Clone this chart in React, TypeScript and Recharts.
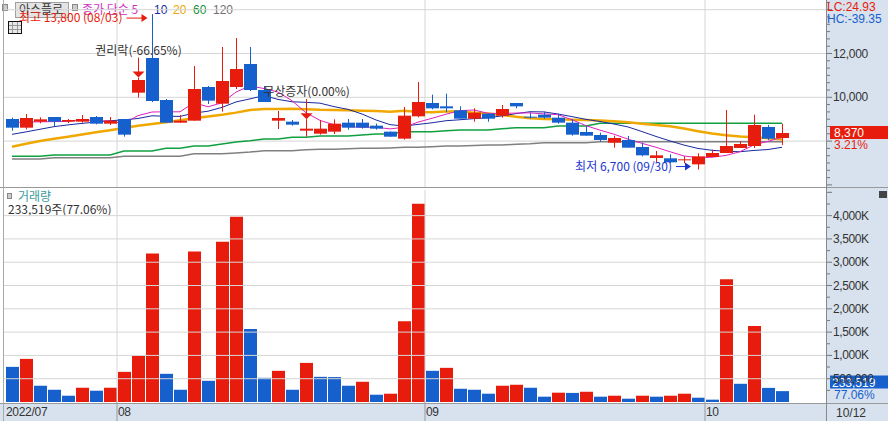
import React from "react";
import { ComposedChart, Bar, Line, XAxis, YAxis, ReferenceLine, Cell } from "recharts";

const RED = "#e81c0c";
const BLUE = "#1560cd";
const GRID = "#d6d6d6";
const PANEL = "#d8e2ee";
const KR_FONT = '"Noto Sans CJK KR", "DejaVu Sans", sans-serif';
const NUM_FONT = '"Liberation Sans", Arial, sans-serif';

// trading days shown
const dates = [
  "07/20", "07/21", "07/22", "07/25", "07/26", "07/27", "07/28", "07/29",
  "08/01", "08/02", "08/03", "08/04", "08/05", "08/08", "08/09", "08/10", "08/11", "08/12",
  "08/16", "08/17", "08/18", "08/19", "08/22", "08/23", "08/24", "08/25", "08/26", "08/29", "08/30", "08/31",
  "09/01", "09/02", "09/05", "09/06", "09/07", "09/08", "09/13", "09/14", "09/15", "09/16",
  "09/19", "09/20", "09/21", "09/22", "09/23", "09/26", "09/27", "09/28", "09/29", "09/30",
  "10/04", "10/05", "10/06", "10/07", "10/11", "10/12",
];

const opens = [
  9009, 8613, 8887, 9100, 8887, 8887, 9100, 8796,
  9009, 10211, 11794, 9876, 8841, 8933, 10470, 9709, 10470, 11520,
  10333, 8933, 8887, 8476, 8339, 8431, 8842, 8842, 8705, 8431, 8111, 9131,
  9740, 9587, 9405, 9024, 9253, 9161, 9740, 9116, 9207, 9070,
  8842, 8416, 8279, 7929, 8050, 7731, 7229, 7213, 7122, 6939,
  7274, 7457, 7685, 7776, 8644, 8142,
];
const highs = [
  9070, 9237, 9085, 9100, 9009, 9191, 9146, 9100,
  9009, 10900, 13800, 9922, 9191, 11429, 10516, 12296, 12708, 12296,
  10516, 9374, 8963, 9000, 8963, 8994, 9009, 9009, 8796, 8440, 9557, 10698,
  10120, 10166, 9587, 9496, 9253, 9648, 9740, 9298, 9344, 9253,
  9009, 8705, 8385, 8248, 8233, 7929, 7548, 7396, 7305, 7442,
  7609, 9420, 8005, 9207, 8735, 8796,
];
const lows = [
  8476, 8537, 8811, 8689, 8826, 8842, 8765, 8735,
  8202, 9983, 9785, 8841, 8841, 8933, 9694, 9344, 10379, 10287,
  9785, 8552, 8704, 8202, 8294, 8324, 8522, 8568, 8522, 8195, 8065, 9085,
  9450, 9313, 9024, 8887, 8887, 9070, 9496, 9024, 9024, 8796,
  8248, 8248, 7974, 7700, 7700, 7305, 7046, 6985, 6985, 6700,
  7274, 7457, 7685, 7685, 8050, 7822,
];
const closes = [
  8613, 9055, 8994, 8887, 8963, 9009, 8796, 8933,
  8294, 10790, 9831, 8841, 8933, 10379, 9846, 10744, 11292, 10333,
  9785, 9055, 8750, 8568, 8568, 8796, 8613, 8613, 8568, 8202, 9161, 9785,
  9496, 9496, 9024, 9298, 9024, 9466, 9587, 9070, 9070, 8842,
  8294, 8248, 8050, 8142, 7700, 7350, 7350, 7031, 7168, 7305,
  7457, 7776, 7868, 8735, 8110, 8370,
];
const volumes = [
  754000, 925000, 349000, 263000, 135000, 306000, 242000, 306000,
  647000, 989000, 3186000, 605000, 263000, 3229000, 455000, 3442000, 3976000, 1565000,
  519000, 669000, 263000, 839000, 540000, 535000, 349000, 434000, 156000, 178000, 1735000, 4253000,
  669000, 733000, 284000, 263000, 178000, 349000, 370000, 306000, 114000, 200000,
  195000, 220000, 114000, 135000, 71000, 135000, 114000, 135000, 178000, 92000,
  50000, 2632000, 391000, 1629000, 303036, 233519,
];

// moving averages as drawn
const ma5 = [
  8850, 8870, 8880, 8890, 8902, 8982, 8930, 8918,
  8799, 9164, 9329, 9338, 9338, 9755, 9566, 9749, 10239, 10519,
  10400, 10242, 9843, 9298, 8945, 8747, 8659, 8632, 8632, 8558, 8631, 8866,
  9042, 9228, 9392, 9420, 9268, 9262, 9280, 9289, 9243, 9207,
  8973, 8705, 8501, 8315, 8087, 7898, 7718, 7515, 7320, 7241,
  7262, 7347, 7515, 7828, 7989, 8172,
];
const ma10 = [
  8309, 8420, 8540, 8660, 8740, 8810, 8870, 8930,
  8970, 9033, 9155, 9134, 9128, 9277, 9365, 9539, 9788, 9928,
  10077, 9904, 9796, 9769, 9732, 9574, 9450, 9237, 8965, 8752, 8689, 8762,
  8837, 8930, 8975, 9026, 9067, 9152, 9254, 9341, 9332, 9237,
  9117, 8992, 8895, 8779, 8647, 8435, 8212, 8008, 7818, 7664,
  7580, 7533, 7515, 7574, 7615, 7717,
];
const ma20 = [
  7746, 7880, 8000, 8110, 8202, 8300, 8400, 8500,
  8600, 8700, 8780, 8860, 8950, 9040, 9120, 9200, 9300, 9420,
  9470, 9469, 9476, 9451, 9430, 9425, 9408, 9388, 9377, 9340, 9383, 9333,
  9316, 9349, 9354, 9300, 9259, 9195, 9109, 9046, 9011, 9000,
  8977, 8961, 8935, 8902, 8857, 8794, 8733, 8674, 8575, 8451,
  8349, 8263, 8205, 8177, 8131, 8076,
];
const ma60 = [
  7304, 7304, 7304, 7365, 7365, 7365, 7365, 7365,
  7548, 7548, 7548, 7670, 7670, 7776, 7776, 7870, 7959, 8020,
  8096, 8096, 8172, 8172, 8233, 8233, 8233, 8280, 8324, 8324, 8431, 8431,
  8431, 8470, 8507, 8507, 8507, 8560, 8613, 8613, 8613, 8690,
  8690, 8690, 8811, 8811, 8811, 8811, 8811, 8811, 8811, 8811,
  8811, 8811, 8811, 8811, 8811, 8811,
];
const ma120 = [
  7183, 7183, 7183, 7244, 7244, 7244, 7244, 7244,
  7304, 7304, 7304, 7304, 7304, 7426, 7426, 7426, 7460, 7500,
  7563, 7563, 7563, 7600, 7624, 7624, 7650, 7670, 7670, 7690, 7715, 7715,
  7740, 7776, 7776, 7800, 7822, 7822, 7860, 7883, 7928, 7929,
  7929, 7929, 7974, 7974, 7974, 7974, 7974, 7974, 7974, 7974,
  7974, 7974, 7974, 7974, 7974, 7974,
];

const monthTicks = ["07/20", "08/01", "09/01", "10/04"];
const monthLabels = ["2022/07", "08", "09", "10"];
const markers = [
  { date: "08/02", label: "권리락(-66.65%)" },
  { date: "08/19", label: "무상증자(0.00%)" },
];
const priceLabels = [10000, 12000];
const priceGrid = [8000, 10000, 12000, 14000];
const volumeGrid = [500000, 1000000, 1500000, 2000000, 2500000, 3000000, 3500000, 4000000];

const data = dates.map((date, i) => ({
  date,
  open: opens[i],
  high: highs[i],
  low: lows[i],
  close: closes[i],
  volume: volumes[i],
  ma5: ma5[i],
  ma10: ma10[i],
  ma20: ma20[i],
  ma60: ma60[i],
  ma120: ma120[i],
}));

const n = data.length;
const last = data[n - 1];
const prev = data[n - 2];
const changePct = ((last.close - prev.close) / prev.close) * 100;
const volPct = (last.volume / prev.volume) * 100;
const hiIdx = highs.indexOf(Math.max(...highs));
const loIdx = lows.indexOf(Math.min(...lows));

const priceTicks: number[] = [];
for (let k = 18; k <= 43; k++) priceTicks.push(Math.round((k * 2000) / 6));
const volumeTicks: number[] = [];
for (let k = 1; k <= 18; k++) volumeTicks.push(k * 250000);

const fmt = (v: number) => v.toLocaleString("en-US");
const fmtVol = (v: number) => (v >= 1000000 ? fmt(v / 1000) + "K" : fmt(v));

const CandleShape = (props: any) => {
  const { x, y, width, height, payload, index } = props;
  if (!payload || height == null) return null;
  const { open, close, high, low, date } = payload;
  const color = close >= open ? RED : BLUE;
  const k = high > low ? height / (high - low) : 0;
  const py = (v: number) => y + (high - v) * k;
  const top = py(Math.max(open, close));
  const bottom = py(Math.min(open, close));
  const cx = x + width / 2;
  const mark = markers.find((m) => m.date === date);
  const yLow = y + height;
  return (
    <g>
      <line x1={cx} x2={cx} y1={y} y2={yLow} stroke={color} strokeWidth={1} />
      <rect x={x} y={top} width={width} height={Math.max(bottom - top, 1)} fill={color} />
      {mark && (
        <g>
          <line x1={cx} x2={cx} y1={y - 20} y2={y - 5} stroke={RED} strokeWidth={1} />
          <path d={`M${cx - 6},${y - 6} L${cx + 6},${y - 6} L${cx},${y} Z`} fill={RED} />
          <text x={cx} y={y - 23} textAnchor="middle" fontSize={12} fill="#333" fontFamily={KR_FONT}>
            {mark.label}
          </text>
        </g>
      )}
      {index === hiIdx && (
        <g>
          <text x={cx - 30} y={y + 8} textAnchor="end" fontSize={12} fill={RED} fontFamily={KR_FONT}>
            {`최고 ${fmt(high)} (${date})`}
          </text>
          <line x1={cx - 26} x2={cx - 10} y1={y + 4} y2={y + 4} stroke={RED} strokeWidth={1} />
          <path d={`M${cx - 11},${y} L${cx - 11},${y + 8} L${cx - 5},${y + 4} Z`} fill={RED} />
        </g>
      )}
      {index === loIdx && (
        <g>
          <text x={x - 20} y={yLow + 1} textAnchor="end" fontSize={12} fill="#1a35d0" fontFamily={KR_FONT}>
            {`최저 ${fmt(low)} (${date})`}
          </text>
          <line x1={x - 16} x2={x - 6} y1={yLow - 3} y2={yLow - 3} stroke="#1a35d0" strokeWidth={1} />
          <path d={`M${x - 7},${yLow - 7} L${x - 7},${yLow + 1} L${x - 1},${yLow - 3} Z`} fill="#1a35d0" />
        </g>
      )}
    </g>
  );
};

const PriceTick = (props: any) => {
  const { x, y, payload } = props;
  const v = Math.round(payload.value);
  const major = v % 2000 === 0;
  return (
    <g>
      <line x1={x} x2={x + (major ? 6 : 4)} y1={y} y2={y} stroke="#777" />
      {priceLabels.includes(v) && (
        <text x={x + 7} y={y + 4} fontSize={12} fill="#333" fontFamily={NUM_FONT} letterSpacing={-0.3}>
          {fmt(v)}
        </text>
      )}
    </g>
  );
};

const VolumeTick = (props: any) => {
  const { x, y, payload } = props;
  const v = payload.value;
  const major = v % 500000 === 0;
  return (
    <g>
      <line x1={x} x2={x + (major ? 6 : 4)} y1={y} y2={y} stroke="#777" />
      {major && v <= 4000000 && (
        <text x={x + 7} y={y + 4} fontSize={12} fill="#333" fontFamily={NUM_FONT} letterSpacing={-0.4}>
          {fmtVol(v)}
        </text>
      )}
    </g>
  );
};

const DateTick = (props: any) => {
  const { x, y, payload } = props;
  const half = payload.offset ?? 7;
  const left = x - half;
  const i = monthTicks.indexOf(payload.value);
  return (
    <g>
      {i > 0 && <line x1={left} x2={left} y1={y} y2={y + 19} stroke="#999" />}
      <text x={left + 1} y={y + 14} fontSize={12} fill="#333" fontFamily={NUM_FONT} letterSpacing={-0.3}>
        {monthLabels[i]}
      </text>
    </g>
  );
};

const PriceTag = (props: any) => {
  const vb = props.viewBox;
  if (!vb) return null;
  const x0 = vb.x + vb.width + 4;
  const cy = vb.y;
  return (
    <g>
      <rect x={x0} y={cy - 7} width={888 - x0} height={13} fill={RED} />
      <text x={x0 + 4} y={cy + 4} fontSize={12} fill="#fff" fontFamily={NUM_FONT}>
        {fmt(last.close)}
      </text>
      <text x={x0 + 4} y={cy + 16} fontSize={12} fill={RED} fontFamily={NUM_FONT}>
        {changePct.toFixed(2) + "%"}
      </text>
    </g>
  );
};

const VolumeTag = (props: any) => {
  const vb = props.viewBox;
  if (!vb) return null;
  const x0 = vb.x + vb.width + 4;
  const cy = Math.min(vb.y, 212 - 19.5);
  return (
    <g>
      <rect x={x0} y={cy - 7} width={888 - x0} height={13} fill={BLUE} />
      <text x={x0 + 2} y={cy + 4} fontSize={12} fill="#fff" fontFamily={NUM_FONT}>
        {fmt(last.volume)}
      </text>
      <text x={x0 + 4} y={cy + 16} fontSize={12} fill={BLUE} fontFamily={NUM_FONT}>
        {volPct.toFixed(2) + "%"}
      </text>
    </g>
  );
};

const Header = () => (
  <svg width={888} height={421} style={{ position: "absolute", left: 0, top: 0 }}>
    <rect x={2.5} y={4.5} width={5} height={6} fill="#ccc" stroke="#888" />
    <rect x={15.5} y={2.5} width={53} height={15} fill="#e4e4e4" stroke="#a0a0a0" />
    <text x={19} y={14} fontSize={12} fill="#333" fontFamily={KR_FONT}>아스플로</text>
    <rect x={72.5} y={4.5} width={5} height={6} fill="#ccc" stroke="#888" />
    <text x={82} y={14} fontSize={12} fill="#d030c0" fontFamily={KR_FONT}>종가 단순 5</text>
    <text x={154} y={14} fontSize={12} fill="#1a2aa0" fontFamily={NUM_FONT}>10</text>
    <text x={173} y={14} fontSize={12} fill="#e8a800" fontFamily={NUM_FONT}>20</text>
    <text x={193} y={14} fontSize={12} fill="#109030" fontFamily={NUM_FONT}>60</text>
    <text x={213} y={14} fontSize={12} fill="#707070" fontFamily={NUM_FONT}>120</text>
    <rect x={8.5} y={21.5} width={13} height={12} fill="#e8e8e8" stroke="#111" />
    <line x1={9} x2={21} y1={25.5} y2={25.5} stroke="#999" />
    <line x1={9} x2={21} y1={29.5} y2={29.5} stroke="#999" />
    <line x1={12.5} x2={12.5} y1={22} y2={33} stroke="#999" />
    <line x1={17.5} x2={17.5} y1={22} y2={33} stroke="#999" />
    <rect x={7.5} y={193.5} width={4} height={5} fill="#ccc" stroke="#888" />
    <text x={18} y={201} fontSize={12} fill="#3a9a9a" fontFamily={KR_FONT}>거래량</text>
    <text x={8} y={214} fontSize={12} fill="#333" fontFamily={KR_FONT}>
      {`${fmt(last.volume)}주(${volPct.toFixed(2)}%)`}
    </text>
  </svg>
);

const Overlay = () => (
  <svg width={888} height={421} style={{ position: "absolute", left: 0, top: 0, pointerEvents: "none" }}>
    <line x1={0} x2={888} y1={187.5} y2={187.5} stroke="#999" />
    <line x1={0} x2={888} y1={403.5} y2={403.5} stroke="#999" />
    <line x1={3.5} x2={3.5} y1={0} y2={421} stroke="#aaa" />
    <line x1={826.5} x2={826.5} y1={0} y2={421} stroke="#888" />
    <text x={827} y={11} fontSize={12} fill={RED} fontFamily={NUM_FONT}>LC:24.93</text>
    <text x={827} y={23} fontSize={12} fill={BLUE} fontFamily={NUM_FONT}>HC:-39.35</text>
    <rect x={879} y={191} width={8} height={7} fill="#444" />
    <text x={836} y={417} fontSize={12} fill="#333" fontFamily={NUM_FONT}>{dates[n - 1]}</text>
  </svg>
);

const xPadding = { left: 2, right: 37 };

export default function App() {
  return (
    <div style={{ position: "absolute", left: 0, top: 0, width: 888, height: 421, background: "#fff", overflow: "hidden" }}>
      <div style={{ position: "absolute", left: 826, top: 0, width: 62, height: 421, background: PANEL }} />
      <div style={{ position: "absolute", left: 0, top: 403, width: 888, height: 18, background: PANEL }} />
      <Header />
      <div style={{ position: "absolute", left: 0, top: 0 }}>
        <ComposedChart width={888} height={187} data={data} margin={{ top: 0, right: 0, bottom: 0, left: 3 }}>
          <XAxis dataKey="date" hide padding={xPadding} />
          <YAxis
            orientation="right"
            width={62}
            domain={[5904, 14443]}
            ticks={priceTicks}
            interval={0}
            tick={PriceTick}
            tickLine={false}
            tickSize={0}
            tickMargin={0}
            axisLine={false}
            allowDataOverflow
          />
          {priceGrid.map((v) => (
            <ReferenceLine key={v} y={v} stroke={GRID} />
          ))}
          {monthTicks.slice(1).map((d) => (
            <ReferenceLine key={d} x={d} position="start" stroke={GRID} />
          ))}
          <Line dataKey="ma120" stroke="#808080" strokeWidth={1.5} dot={false} isAnimationActive={false} />
          <Line dataKey="ma60" stroke="#10a040" strokeWidth={1.5} dot={false} isAnimationActive={false} />
          <Line dataKey="ma20" stroke="#f0a800" strokeWidth={2.5} dot={false} isAnimationActive={false} />
          <Line dataKey="ma10" stroke="#1a2aa0" strokeWidth={1} dot={false} isAnimationActive={false} />
          <Line dataKey="ma5" stroke="#e020c0" strokeWidth={1} dot={false} isAnimationActive={false} />
          <Bar
            dataKey={(d: any) => [d.low, d.high]}
            barSize={13}
            shape={CandleShape}
            zIndex={500}
            isAnimationActive={false}
          />
          <ReferenceLine y={last.close} stroke="none" label={<PriceTag />} />
        </ComposedChart>
      </div>
      <div style={{ position: "absolute", left: 0, top: 190 }}>
        <ComposedChart width={888} height={231} data={data} margin={{ top: 0, right: 0, bottom: 0, left: 3 }}>
          <XAxis
            dataKey="date"
            height={19}
            padding={xPadding}
            ticks={monthTicks}
            interval={0}
            tick={DateTick}
            tickLine={false}
            tickSize={0}
            tickMargin={0}
            axisLine={false}
          />
          <YAxis
            orientation="right"
            width={62}
            domain={[0, 4550000]}
            ticks={volumeTicks}
            interval={0}
            tick={VolumeTick}
            tickLine={false}
            tickSize={0}
            tickMargin={0}
            axisLine={false}
            allowDataOverflow
          />
          {volumeGrid.map((v) => (
            <ReferenceLine key={v} y={v} stroke={GRID} />
          ))}
          {monthTicks.slice(1).map((d) => (
            <ReferenceLine key={d} x={d} position="start" stroke={GRID} />
          ))}
          <Bar dataKey="volume" barSize={13} isAnimationActive={false}>
            {data.map((d, i) => (
              <Cell key={d.date} fill={i > 0 && d.volume > data[i - 1].volume ? RED : BLUE} />
            ))}
          </Bar>
          <ReferenceLine y={last.volume} stroke="none" label={<VolumeTag />} />
        </ComposedChart>
      </div>
      <Overlay />
    </div>
  );
}
